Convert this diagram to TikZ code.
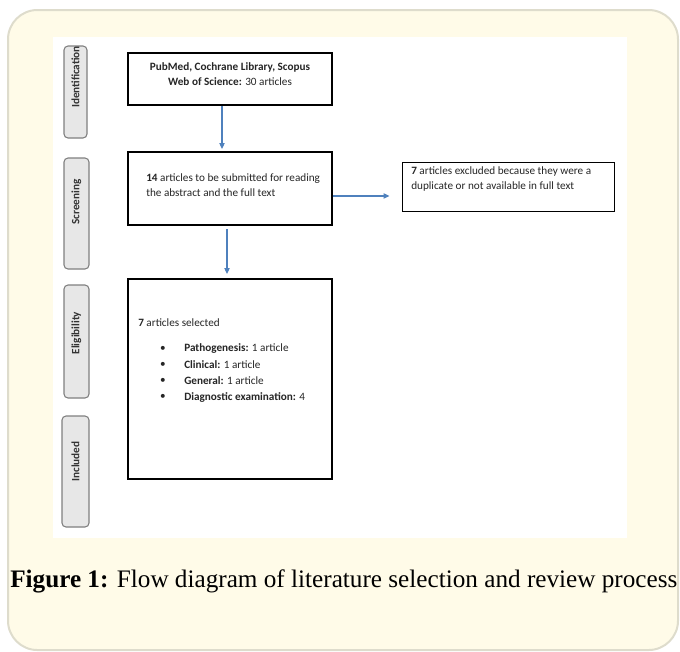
\documentclass[tikz,border=0pt]{standalone}
\usepackage{fontspec}
\setmainfont{Carlito}
\newfontfamily\capfont{Liberation Serif}
\usetikzlibrary{arrows.meta}
\definecolor{creamfill}{RGB}{255,251,232}
\definecolor{creamline}{RGB}{222,220,204}
\definecolor{tabfill}{RGB}{231,231,231}
\definecolor{tabline}{RGB}{128,128,128}
\definecolor{flowblue}{RGB}{79,129,189}

\begin{document}
\begin{tikzpicture}[x=0.75pt,y=0.75pt,yscale=-1,xscale=1,
  every node/.style={font=\fontsize{8.4}{11.25}\selectfont},
  flowbox/.style={draw=black,line width=1.5pt,fill=white,minimum width=153pt,inner sep=0pt},
  stagetab/.style={draw=tabline,line width=0.8pt,fill=tabfill,rounded corners=3pt,rotate=90,inner sep=0pt},
  stagetext/.style={rotate=90,inner sep=0pt,text=black!80,font=\bfseries\fontsize{8.4}{10}\selectfont},
  boxtext/.style={align=left,inner sep=0pt,text=black!85},
  flowarrow/.style={draw=flowblue,line width=0.8pt,-{Triangle[length=4.5pt,width=4pt]}}]
\useasboundingbox (0,0) rectangle (680,651);
% frame and white panel
\draw [draw=creamline,fill=creamfill,line width=1.5pt,rounded corners=22pt] (8,10) rectangle (678,650);
\fill [white] (53,37) rectangle (627,538);

% stage tabs
\node [stagetab,minimum width=69pt,minimum height=17.25pt] (tabid) at (75.5,92) {};
\node [stagetab,minimum width=83.25pt,minimum height=18.75pt] (tabscr) at (76.5,213.5) {};
\node [stagetab,minimum width=84.75pt,minimum height=18.75pt] (tabeli) at (76.5,341.5) {};
\node [stagetab,minimum width=83.25pt,minimum height=20.25pt] (tabinc) at (75.5,471.5) {};
\node [stagetext] (lblid) at (75.5,77) {Identification};
\node [stagetext] (lblscr) at (76.5,202) {Screening};
\node [stagetext] (lbleli) at (76.5,333) {Eligibility};
\node [stagetext] (lblinc) at (75.5,461.5) {Included};

% boxes
\node [flowbox,minimum height=39pt] (search) at (230,79) {};
\node [flowbox,minimum height=54.75pt] (screen) at (230,188.5) {};
\node [flowbox,minimum height=150pt] (select) at (230,379) {};
\node [draw=black,line width=0.75pt,fill=white,minimum width=159pt,minimum height=36.75pt,inner sep=0pt] (exclude) at (508,186.5) {};

\node [boxtext,align=center] (searchtxt) at (230,74.5) {\textbf{PubMed, Cochrane Library, Scopus}\\\textbf{Web of Science:} 30 articles};
\node [boxtext,anchor=west] (screentxt) at (146,185.5) {\textbf{14} articles to be submitted for reading\\the abstract and the full text};
\node [boxtext,anchor=west] (excludetxt) at (411,179) {\textbf{7} articles excluded because they were a\\duplicate or not available in full text};
\node [boxtext,anchor=west] (selecttxt) at (138,323) {\textbf{7} articles selected};
\foreach \entry [count=\i] in {{\textbf{Pathogenesis:} 1 article},{\textbf{Clinical:} 1 article},{\textbf{General:} 1 article},{\textbf{Diagnostic examination:} 4}}
{
  \node [boxtext] (dot\i) at (163,333+16*\i) {\textbullet};
  \node [boxtext,anchor=west] (item\i) at (184,333+16*\i) {\entry};
}

% arrows
\draw [flowarrow,shorten >=1.5pt] ([xshift=-6pt]search.south) -- ([xshift=-6pt]search.south |- screen.north);
\draw [flowarrow,shorten <=2.25pt,shorten >=3pt] ([xshift=-2.25pt]screen.south) -- ([xshift=-2.25pt]screen.south |- select.north);
\draw [flowarrow,shorten >=9pt] ([yshift=5.6pt]screen.east) -- ([yshift=5.6pt]screen.east -| exclude.west);

% caption
\node [anchor=base west,inner sep=0pt,font=\capfont\fontsize{18.9}{22}\selectfont] (caption) at (10,587) {\textbf{Figure 1:} Flow diagram of literature selection and review process};
\end{tikzpicture}
\end{document}
